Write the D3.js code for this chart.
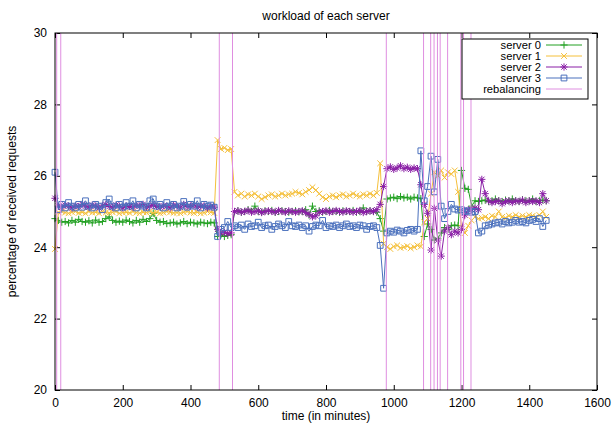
<!DOCTYPE html>
<html><head><meta charset="utf-8">
<script src="https://cdn.jsdelivr.net/npm/d3@7"></script>
<style>
body{margin:0;background:#fff}
text{font-family:"Liberation Sans",Arial,Helvetica,sans-serif;fill:#000}
</style>
</head><body>
<svg id="c" width="612" height="430"></svg>
<script>
// sample times (minutes), one sample every 10 minutes
const minutes = d3.range(0, 1451, 10);

const server0 = [
24.8,24.75,24.7,24.72,24.68,24.75,24.7,24.78,24.72,24.7,
24.74,24.68,24.76,24.7,24.72,24.8,24.85,24.75,24.7,24.73,
24.7,24.76,24.72,24.68,24.75,24.7,24.78,24.72,24.8,24.95,
24.75,24.7,24.72,24.66,24.68,24.7,24.65,24.68,24.72,24.66,
24.7,24.68,24.65,24.7,24.68,24.66,24.7,24.68,
24.3,24.35,24.3,24.33,24.35,
25.0,25.02,24.98,25.0,25.05,25.0,25.15,25.0,24.98,25.02,
25.0,25.03,24.98,25.0,25.02,25.0,24.98,25.0,25.02,24.99,
25.0,25.05,24.9,25.15,25.0,25.02,24.98,25.0,25.03,25.0,
25.0,24.98,25.02,25.0,25.0,25.03,24.98,25.0,25.1,25.0,
25.02,25.0,24.98,
24.8,24.45,
25.35,25.38,25.4,25.36,25.42,25.38,25.4,25.35,25.4,25.38,25.36,
24.3,24.65,24.5,24.2,24.25,24.4,24.55,24.5,24.6,24.62,24.6,26.15,25.65,25.62,25.15,25.3,25.28,
25.3,25.32,25.28,25.3,25.35,25.3,25.28,25.32,25.3,25.35,25.3,25.28,25.33,25.3,25.3,25.35,25.28,25.3,25.32,25.3
];

const server1 = [
23.95,
24.98,25.0,24.97,24.95,24.98,25.0,24.96,24.98,24.95,25.0,
24.97,24.98,24.95,25.0,24.97,24.96,24.98,25.0,24.95,24.97,
24.98,24.96,25.0,24.97,24.95,24.98,24.97,25.0,24.96,24.98,
24.95,24.97,25.0,24.98,24.96,24.97,24.95,24.98,25.0,24.97,
24.96,24.98,24.95,24.97,25.0,24.98,24.96,
27.0,26.75,26.78,26.72,26.75,
25.55,25.45,25.5,25.42,25.48,25.45,25.5,25.42,25.35,25.4,
25.45,25.48,25.42,25.45,25.5,25.45,25.48,25.5,25.55,25.52,
25.48,25.55,25.6,25.68,25.6,25.5,25.4,25.35,25.42,25.45,
25.4,25.45,25.48,25.42,25.45,25.5,25.45,25.42,25.48,25.45,
25.5,25.45,25.52,
26.35,24.1,
24.0,23.95,24.02,24.05,23.98,24.0,24.03,23.97,24.0,24.05,24.02,
24.7,24.8,25.5,26.1,26.0,26.15,25.95,26.1,26.05,26.15,25.55,24.55,24.4,24.6,24.75,24.85,24.8,
24.82,24.85,24.8,24.88,24.85,25.0,24.85,24.82,24.88,24.85,24.9,24.85,24.88,24.85,24.9,24.88,24.85,24.9,25.0,24.85
];

const server2 = [
25.37,
25.15,25.12,25.18,25.15,25.1,25.16,25.14,25.2,25.15,25.12,
25.18,25.15,25.1,25.16,25.2,25.14,25.12,25.18,25.15,25.1,
25.16,25.14,25.12,25.18,25.15,25.2,25.12,25.15,25.18,25.14,
25.12,25.16,25.15,25.1,25.18,25.15,25.12,25.2,25.14,25.15,
25.18,25.12,25.15,25.16,25.1,25.15,25.12,
24.5,24.4,24.42,24.38,24.4,
25.0,25.02,24.98,25.0,25.03,24.98,25.0,25.02,24.97,25.0,
25.02,25.0,24.98,25.03,25.0,24.98,25.02,25.0,24.98,25.0,
25.02,24.97,24.92,24.85,24.88,24.98,25.0,25.02,24.98,25.0,
25.03,25.0,24.98,25.02,25.0,24.98,25.0,25.03,24.97,25.0,
25.02,25.0,25.05,
25.2,25.7,
26.2,26.25,26.18,26.22,26.28,26.2,26.24,26.18,26.22,26.2,
25.75,
25.2,24.95,23.92,25.09,24.2,23.75,24.45,24.55,24.35,24.45,24.4,24.5,24.9,25.05,25.05,25.1,25.05,
25.9,25.5,
25.3,25.25,25.28,25.3,25.22,25.28,25.3,25.25,25.3,25.28,25.32,25.25,25.3,25.28,25.3,25.25,25.5,25.3
];

const server3 = [
26.1,
25.05,25.2,25.1,25.25,25.15,25.1,25.2,25.12,25.3,25.15,
25.1,25.2,25.15,25.05,25.25,25.35,25.15,25.1,25.2,25.12,
25.25,25.15,25.3,25.1,25.2,25.15,25.1,25.3,25.35,25.15,
25.2,25.1,25.25,25.15,25.2,25.1,25.15,25.28,25.12,25.2,
25.15,25.3,25.1,25.2,25.15,25.18,25.12,
24.3,24.5,24.55,24.72,24.55,
24.6,24.55,24.62,24.5,24.65,24.58,24.6,24.7,24.55,24.6,
24.62,24.5,24.58,24.65,24.6,24.55,24.72,24.6,24.58,24.62,
24.55,24.6,24.45,24.58,24.62,24.6,24.75,24.55,24.6,24.58,
24.62,24.55,24.6,24.65,24.58,24.6,24.55,24.62,24.6,24.5,
24.58,24.6,24.55,
24.05,22.85,
24.4,24.45,24.42,24.48,24.45,24.4,24.47,24.5,24.45,24.5,
26.7,
25.3,25.7,26.55,25.55,26.46,25.15,24.8,25.0,25.2,25.07,25.04,25.05,25.0,25.02,24.98,25.0,24.4,
24.45,24.6,
24.62,24.65,24.68,24.7,24.65,24.72,24.68,24.7,24.75,24.7,24.72,24.68,24.75,24.78,24.72,24.8,24.58,24.75
];

const rebalancing = [5, 17, 485, 524, 978, 1088, 1109, 1119, 1129, 1137, 1159, 1198, 1206, 1228];

const seriesNames = ["server 0", "server 1", "server 2", "server 3"];
const seriesColors = ["#22a022", "#f5c03a", "#8a1fa6", "#4a70bd"];
const seriesMarkers = ["plus", "cross", "star", "square"];
const rebalColor = "#df8ee0";
const xTicks = [0, 200, 400, 600, 800, 1000, 1200, 1400, 1600];
const yTicks = [20, 22, 24, 26, 28, 30];

const svg = d3.select("#c");
const L = 55, R = 597, T = 33, B = 390;
const x = d3.scaleLinear().domain([0, 1600]).range([L, R]);
const y = d3.scaleLinear().domain([20, 30]).range([B, T]);

function markerPath(type, s) {
  const h = s;
  if (type === "plus") return `M${-h},0H${h}M0,${-h}V${h}`;
  if (type === "cross") { const d = h*0.8; return `M${-d},${-d}L${d},${d}M${-d},${d}L${d},${-d}`; }
  if (type === "star") { const d = h*0.75; return `M${-h},0H${h}M0,${-h}V${h}M${-d},${-d}L${d},${d}M${-d},${d}L${d},${-d}`; }
  const q = h*0.8; return `M${-q},${-q}H${q}V${q}H${-q}Z`;
}

// title
svg.append("text").attr("x", 326).attr("y", 20).attr("text-anchor", "middle")
  .attr("font-size", 12).text("workload of each server");

// axes
const fmt = d3.format("d");
const gx = svg.append("g").attr("transform", `translate(0,${B})`)
  .call(d3.axisBottom(x).tickValues(xTicks).tickSize(-5).tickSizeOuter(0).tickPadding(8).tickFormat(fmt));
const gxt = svg.append("g").attr("transform", `translate(0,${T})`)
  .call(d3.axisTop(x).tickValues(xTicks).tickSize(-5).tickSizeOuter(0).tickFormat(""));
const gy = svg.append("g").attr("transform", `translate(${L},0)`)
  .call(d3.axisLeft(y).tickValues(yTicks).tickSize(-5).tickSizeOuter(0).tickPadding(8).tickFormat(fmt));
const gyr = svg.append("g").attr("transform", `translate(${R},0)`)
  .call(d3.axisRight(y).tickValues(yTicks).tickSize(-5).tickSizeOuter(0).tickFormat(""));
[gx, gxt, gy, gyr].forEach(g => {
  g.selectAll("text").attr("font-size", 12).attr("font-family", '"Liberation Sans",Arial,sans-serif').attr("fill", "#000");
  g.select(".domain").remove();
  g.selectAll("line").attr("stroke", "#000");
});

// axis titles
svg.append("text").attr("x", 326).attr("y", 420).attr("text-anchor", "middle")
  .attr("font-size", 12).text("time (in minutes)");
svg.append("text").attr("transform", `translate(16,${(T+B)/2}) rotate(-90)`)
  .attr("text-anchor", "middle").attr("font-size", 12).text("percentage of received requests");

// data
const allSeries = [server0, server1, server2, server3];
const plot = svg.append("g");
const line = d3.line().x((d, i) => x(minutes[i])).y(d => y(d));
allSeries.forEach((vals, si) => {
  const g = plot.append("g");
  g.append("path").datum(vals).attr("d", line).attr("fill", "none")
    .attr("stroke", seriesColors[si]).attr("stroke-width", 1);
  g.selectAll("path.m").data(vals).join("path").attr("class", "m")
    .attr("transform", (d, i) => `translate(${x(minutes[i])},${y(d)})`)
    .attr("d", markerPath(seriesMarkers[si], 3.6))
    .attr("fill", "none").attr("stroke", seriesColors[si]).attr("stroke-width", 1);
});

// rebalancing lines
plot.selectAll("line.rb").data(rebalancing).join("line").attr("class", "rb")
  .attr("x1", d => x(d)).attr("x2", d => x(d)).attr("y1", T).attr("y2", B)
  .attr("stroke", rebalColor).attr("stroke-width", 1);

// frame
svg.append("rect").attr("x", L).attr("y", T).attr("width", R - L).attr("height", B - T)
  .attr("fill", "none").attr("stroke", "#000").attr("stroke-width", 1);

// legend
const lg = svg.append("g");
lg.append("rect").attr("x", 462).attr("y", 39).attr("width", 126).attr("height", 60)
  .attr("fill", "#fff").attr("stroke", "#000").attr("stroke-width", 1);
const legendItems = seriesNames.concat(["rebalancing"]);
legendItems.forEach((name, i) => {
  const cy = 45 + i * 11;
  lg.append("text").attr("x", 541).attr("y", cy + 4).attr("text-anchor", "end")
    .attr("font-size", 11.2).text(name);
  const col = i < 4 ? seriesColors[i] : rebalColor;
  lg.append("line").attr("x1", 546).attr("x2", 582).attr("y1", cy).attr("y2", cy)
    .attr("stroke", col).attr("stroke-width", 1);
  if (i < 4) {
    lg.append("path").attr("transform", `translate(564,${cy})`)
      .attr("d", markerPath(seriesMarkers[i], 3.6)).attr("fill", "none")
      .attr("stroke", col).attr("stroke-width", 1);
  }
});
</script>
</body></html>
